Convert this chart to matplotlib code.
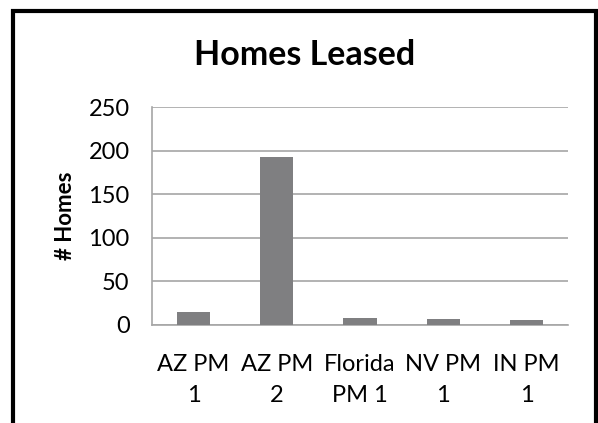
import matplotlib.pyplot as plt
from matplotlib.patches import Rectangle

categories = ['AZ PM\n1', 'AZ PM\n2', 'Florida\nPM 1', 'NV PM\n1', 'IN PM\n1']
homes = [15, 193, 8, 7, 6]
yticks = [0, 50, 100, 150, 200, 250]

plt.rcParams['font.family'] = ['Lato', 'DejaVu Sans']

fig = plt.figure(figsize=(5.98, 4.23), dpi=100)
ax = fig.add_axes([0.254, 0.232, 0.696, 0.515])

x = range(len(categories))
ax.bar(x, homes, width=0.4, color='#7f7f81', zorder=3)
ax.set_xlim(-0.5, len(categories) - 0.5)
ax.set_ylim(0, 250)
ax.set_yticks(yticks)
ax.set_xticks(list(x))
ax.set_xticklabels(categories, fontsize=17, linespacing=1.6)
ax.tick_params(axis='y', labelsize=17, length=0, pad=16)
ax.tick_params(axis='x', length=0, pad=21)
ax.grid(axis='y', color='#a6a6a6', linewidth=1.2, zorder=0)
for s in ['top', 'right']:
    ax.spines[s].set_visible(False)
for s in ['left', 'bottom']:
    ax.spines[s].set_color('#a6a6a6')
    ax.spines[s].set_linewidth(1.2)

ax.set_ylabel('# Homes', fontsize=16, fontweight='bold', labelpad=9)
fig.text(0.51, 0.87, 'Homes Leased', ha='center', va='center',
         fontsize=24.5, fontweight='bold')

# outer border like the pasted chart box
fig.patches.append(Rectangle((0.022, -0.01), 0.975, 0.985, transform=fig.transFigure,
                             fill=False, edgecolor='black', linewidth=3))

fig.savefig('out.png', dpi=100)
